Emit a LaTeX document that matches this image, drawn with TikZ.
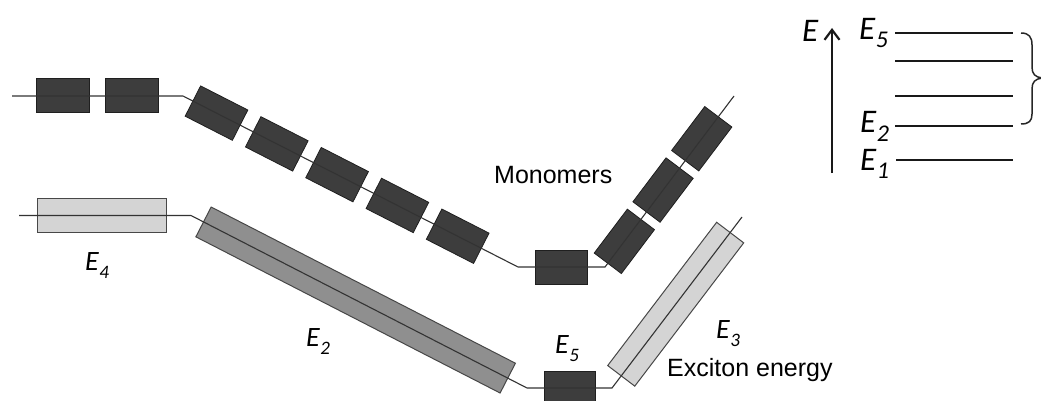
\documentclass[tikz,border=0pt]{standalone}
\usepackage{fontspec}
\setmainfont{Liberation Sans}
\newfontfamily\calib{Carlito}
\usetikzlibrary{calc,arrows.meta}
\newcommand{\ElabL}[1]{{\calib\itshape\fontsize{28}{28}\selectfont E\kern0.5pt\raisebox{-8pt}{\fontsize{19}{19}\selectfont #1}}}
\newcommand{\ElabR}[1]{{\calib\itshape\fontsize{33}{33}\selectfont E\kern0.5pt\raisebox{-8.5pt}{\fontsize{24}{24}\selectfont #1}}}
\tikzset{
  chainline/.style={draw=black!80, line width=1.1pt},
  monobox/.style={draw=black!88, fill=black!76, line width=0.8pt, minimum width=53pt, minimum height=34pt, inner sep=0pt},
  lightbox/.style={draw=black!72, fill=black!17, line width=1pt, minimum height=34pt, inner sep=0pt},
  midbox/.style={draw=black!72, fill=black!44, line width=1pt, minimum height=33.5pt, inner sep=0pt},
  lab/.style={inner sep=0pt, anchor=base west},
  sanslab/.style={inner sep=0pt, anchor=base west, font=\fontsize{25}{25}\selectfont},
  level/.style={draw=black!90, line width=2.3pt},
}
\begin{document}
\begin{tikzpicture}[x=1pt,y=-1pt]
\useasboundingbox (0,0) rectangle (1041,401);
\clip (0,0) rectangle (1041,401);
% top chain (monomers)
\coordinate (t0) at (12,96);
\coordinate (t1) at (183,96);
\coordinate (t2) at (518,267);
\coordinate (t3) at (605,267);
\coordinate (t4) at (734,96);
\node[monobox] (m1) at (63,95.5) {};
\node[monobox] (m2) at (131.5,95.5) {};
\path (t1) -- (t2)
  node[monobox, sloped, pos=0.10] (m3) {}
  node[monobox, sloped, pos=0.28] (m4) {}
  node[monobox, sloped, pos=0.46] (m5) {}
  node[monobox, sloped, pos=0.64] (m6) {}
  node[monobox, sloped, pos=0.82] (m7) {};
\node[monobox, minimum width=52pt] (m8) at ($(t2)!0.5!(t3)$) {};
\path (t3) -- (t4)
  node[monobox, sloped, pos=0.15, minimum width=55pt] (m9) {}
  node[monobox, sloped, pos=0.45, minimum width=55pt] (m10) {}
  node[monobox, sloped, pos=0.75, minimum width=55pt] (m11) {};
\draw[chainline] (t0) -- (t1) -- (t2) -- (t3) -- (t4);
% bottom chain (excitons)
\coordinate (b0) at (19,215.5);
\coordinate (b1) at (191,215.5);
\coordinate (b2) at (527,388);
\coordinate (b3) at (612,388);
\coordinate (b4) at (742,217);
\node[lightbox, minimum width=129pt] (e4) at ($(b0)!0.48!(b1)$) {};
\path (b1) -- (b2) node[midbox, sloped, pos=0.49, minimum width=342pt] (e2) {};
\node[monobox, minimum width=51pt] (e5) at ($(b2)!0.51!(b3)$) {};
\path (b3) -- (b4) node[lightbox, sloped, pos=0.49, minimum width=180pt] (e3) {};
\draw[chainline] (b0) -- (b1) -- (b2) -- (b3) -- (b4);
% labels
\node[lab] (le4) at (85,270) {\ElabL{4}};
\node[lab] (le2) at (306,346) {\ElabL{2}};
\node[lab] (le5) at (555,353.5) {\ElabL{5}};
\node[lab] (le3) at (716,338) {\ElabL{3}};
\node[sanslab] (mono) at (494,183.3) {Monomers};
\node[sanslab] (exc) at (667,376.7) {Exciton energy};
% energy level scheme
\node[lab] (eaxis) at (802,42) {\calib\itshape\fontsize{33}{33}\selectfont E};
\coordinate (ab) at (832,173);
\coordinate (at) at (832,28);
\draw[line width=2.2pt, black!90, -{Straight Barb[length=10pt,width=15pt]}] (ab) -- (at);
\coordinate (l5a) at (895,33.3);   \coordinate (l5b) at (1013,33.3);
\coordinate (l4a) at (895,60.7);   \coordinate (l4b) at (1013,60.7);
\coordinate (l3a) at (895,96);     \coordinate (l3b) at (1013,96);
\coordinate (l2a) at (895,126);    \coordinate (l2b) at (1013,126);
\coordinate (l1a) at (896,160);    \coordinate (l1b) at (1013,160);
\draw[level] (l5a) -- (l5b);
\draw[level] (l4a) -- (l4b);
\draw[level] (l3a) -- (l3b);
\draw[level] (l2a) -- (l2b);
\draw[level] (l1a) -- (l1b);
\node[lab] (r5) at (859,39.3) {\ElabR{5}};
\node[lab] (r2) at (860,133) {\ElabR{2}};
\node[lab] (r1) at (860,170) {\ElabR{1}};
\draw[line width=1.5pt, black!85] (1021,33) .. controls (1029,33) and (1032,37) .. (1032,45) -- (1032,67) .. controls (1032,74) and (1035,77) .. (1042,78) .. controls (1035,79) and (1032,82) .. (1032,89) -- (1032,114) .. controls (1032,121) and (1029,124) .. (1021,124);
\end{tikzpicture}
\end{document}
